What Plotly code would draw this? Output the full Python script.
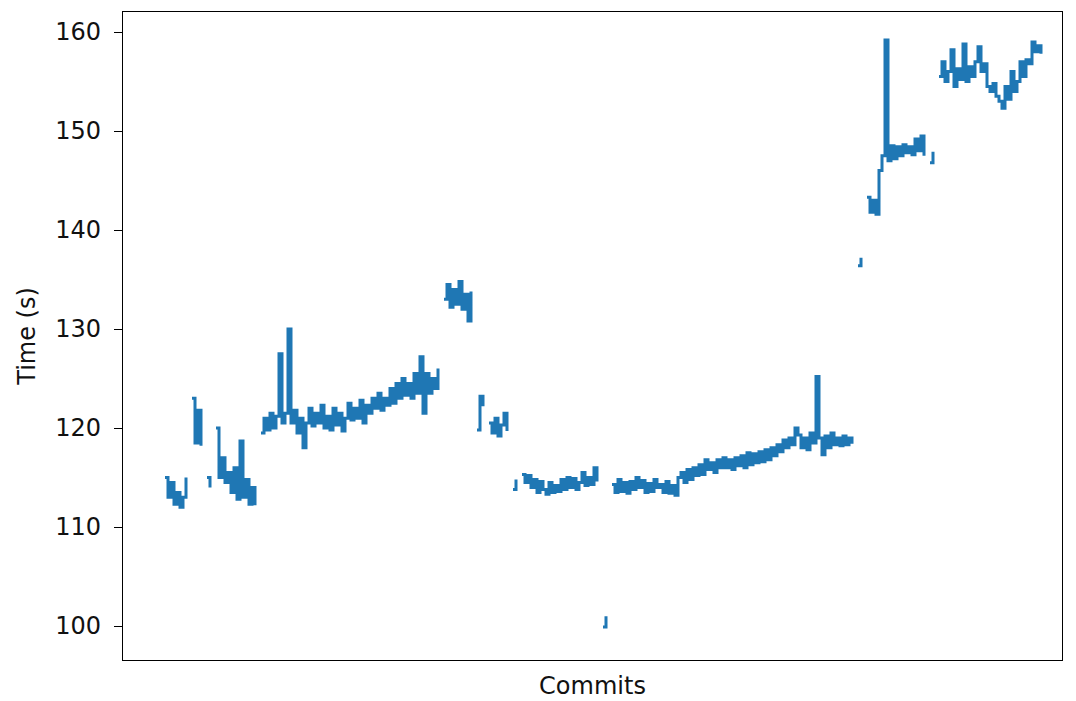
import plotly.graph_objects as go

nan = None

# benchmark time per commit (seconds); None = missing run
seg_a = [115, 113, 114.5, 112.3, 113.5, 112, 113, 115]
seg_b = [nan, 123, 118.5, 121.8, 118.2, nan, 115, 114, nan]
seg_c = [120, 115, 117, 114.5, 115.5, 113.5, 116, 112.8, 118.7, 113, 114.8,
         112.3, 114, 112.2, nan]
seg_d = [119.5, 121, 119.8, 121.5, 120, 121.2, 127.5, 120.5, 121.5, 130,
         120.5, 121.8, 119.5, 121, 118, 120.5, 122, 120.2, 121.5, 120.5,
         122.3, 120, 121.2, 119.8, 122, 120.3, 121.5, 119.7, 121, 122.5,
         120.8, 122, 121, 122.8, 120.5, 122.3, 121.5, 123, 122, 123.5,
         121.8, 123, 122.3, 124, 122.5, 124.5, 123, 125, 123.3, 124.5,
         123, 125.5, 123.5, 127.2, 121.5, 125.5, 123.5, 125, 124, 126, nan]
seg_e = [133, 134.5, 132.2, 134, 132.5, 134.8, 132, 133.5, 130.8, 133.8, nan]
seg_f = [119.8, 123.2, 122.2, nan, 120.5, 119.5, 121, 119.2, 120.3, 121.5,
         119.7, nan, 113.8, 114.8, nan]
seg_g = [115.3, 114.5, 115.2, 114, 114.8, 113.5, 114.6, 113.8, 113.3, 114.5,
         113.5, 114.2, 113.6, 114.8, 113.8, 115, 114, 114.9, 113.8, 114.5,
         115.5, 114.2, 115, 114.3, 116, 114.6, nan]
seg_h = [99.9, 101, nan]
seg_i = [114.3, 113.5, 114.8, 113.6, 114.5, 113.4, 114.6, 113.8, 115, 114,
         114.7, 113.5, 114.4, 113.6, 114.8, 114, 114.3, 113.5, 114.6, 113.4,
         114.2, 113.2, 115, 115.5, 114.5, 115.8, 114.8, 116, 115.2, 116.3,
         115.3, 116.8, 115.8, 116.5, 115.5, 116.8, 116, 117, 116, 116.8,
         115.8, 117, 116.2, 117.2, 116, 117.5, 116.3, 117.4, 116.5, 117.6,
         116.6, 117.8, 116.8, 118, 117.2, 118.3, 117.6, 118.8, 118, 119,
         118.3, 120, 119.3, 118, 119, 117.8, 119.5, 118.5, 125.2, 119,
         117.3, 119.2, 118, 119.5, 118.3, 119, 118.2, 119.2, 118.3, 119,
         118.4, nan]
seg_j = [136.4, 137.2, nan]
seg_k = [143.3, 141.8, 143, 141.6, 146, 147.5, 159.2, 147, 148.5, 147.2,
         148.4, 147.5, 148.6, 147.8, 148.4, 147.6, 149.2, 148, 149.5, 147.5,
         nan, 146.8, 147.9, nan]
seg_l = [155.5, 157, 155, 156, 158.2, 154.5, 156.3, 155.2, 158.8, 155,
         156.5, 155.5, 157, 158.5, 156, 156.8, 154.5, 154, 154.8, 153.5,
         153, 152.3, 154.5, 153.2, 156, 154, 155, 157, 155.5, 157.2, 156.8,
         159, 158, 158.6, 157.8]

times = (seg_a + seg_b + seg_c + seg_d + seg_e + seg_f + seg_g + seg_h
         + seg_i + seg_j + seg_k + seg_l)
commits = list(range(len(times)))

y_ticks = [100, 110, 120, 130, 140, 150, 160]

FONT = "DejaVu Sans"
FS = 24

fig = go.Figure()
fig.add_trace(go.Scatter(
    x=commits, y=times, mode="lines",
    line=dict(color="#1f77b4", width=3, shape="hv"),
    connectgaps=False, showlegend=False, hoverinfo="skip",
))

fig.update_layout(
    width=1076, height=701,
    margin=dict(l=123, r=14, t=12, b=41),
    paper_bgcolor="white", plot_bgcolor="white",
    font=dict(family=FONT, size=FS, color="#111111"),
)
fig.update_xaxes(
    range=[-14, 299], showgrid=False, zeroline=False,
    showticklabels=False, ticks="",
    showline=True, mirror=True, linecolor="black", linewidth=1.2,
    title=dict(text="Commits", font=dict(size=FS), standoff=17),
    automargin=False,
)
fig.update_yaxes(
    range=[96.57, 162.02], showgrid=False, zeroline=False,
    tickvals=y_ticks, ticktext=[str(v) for v in y_ticks],
    ticks="outside", ticklen=8, tickcolor="black", tickwidth=1.2,
    ticklabelstandoff=8,
    showline=True, mirror=True, linecolor="black", linewidth=1.2,
    title=dict(text="Time (s)", font=dict(size=FS), standoff=12),
    automargin=False,
)

fig.write_html("out.html")
